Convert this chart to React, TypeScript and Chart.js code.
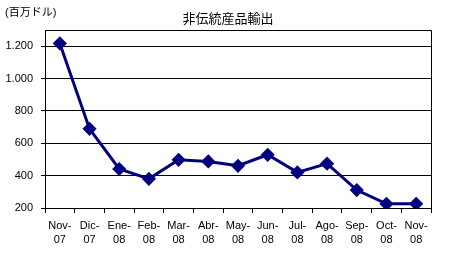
import React, { useEffect, useRef } from "react";
import { Chart, registerables } from "chart.js";

Chart.register(...registerables);

const categories: string[][] = [
  ["Nov-", "07"], ["Dic-", "07"], ["Ene-", "08"], ["Feb-", "08"], ["Mar-", "08"],
  ["Abr-", "08"], ["May-", "08"], ["Jun-", "08"], ["Jul-", "08"], ["Ago-", "08"],
  ["Sep-", "08"], ["Oct-", "08"], ["Nov-", "08"],
];
const exportsValues: number[] = [1217, 689, 441, 380, 498, 488, 461, 529, 420, 474, 311, 226, 226];
const yTicks: number[] = [200, 400, 600, 800, 1000, 1200];
const titleText = "非伝統産品輸出";
const unitText = "(百万ドル)";

const FONT = "'Liberation Sans', Arial, 'Noto Sans CJK JP', sans-serif";

const fmt = (v: number) => String(v).replace(/\B(?=(\d{3})+(?!\d))/g, ".");

export default function App() {
  const ref = useRef<HTMLCanvasElement | null>(null);
  useEffect(() => {
    if (!ref.current) return;
    const textPlugin = {
      id: "texts",
      afterDraw(chart: any) {
        const ctx = chart.ctx;
        const a = chart.chartArea;
        ctx.save();
        ctx.strokeStyle = "#000";
        ctx.lineWidth = 1;
        ctx.beginPath();
        ctx.moveTo(a.left, a.top + 0.5);
        ctx.lineTo(a.right + 0.5, a.top + 0.5);
        ctx.lineTo(a.right + 0.5, a.bottom);
        ctx.stroke();
        ctx.fillStyle = "#000";
        ctx.textBaseline = "middle";
        ctx.font = "11px " + FONT;
        ctx.textAlign = "left";
        ctx.fillText(unitText, 5, 13);
        ctx.font = "13px " + FONT;
        ctx.textAlign = "center";
        ctx.fillText(titleText, 228, 19);
        ctx.restore();
      },
    };
    const chart = new Chart(ref.current, {
      type: "line",
      data: {
        labels: categories,
        datasets: [
          {
            data: exportsValues,
            borderColor: "#000080",
            backgroundColor: "#000080",
            borderWidth: 3,
            pointStyle: "rectRot",
            pointRadius: 5,
            pointHoverRadius: 5,
            tension: 0,
          },
        ],
      },
      options: {
        animation: false,
        responsive: false,
        events: [],
        layout: { padding: { left: 0, right: 29, top: 30, bottom: 0 } },
        plugins: { legend: { display: false }, title: { display: false }, tooltip: { enabled: false } },
        scales: {
          x: {
            type: "category",
            offset: true,
            grid: { offset: true, drawOnChartArea: false, drawTicks: true, tickLength: 5, color: "#000" },
            border: { display: true, color: "#000", width: 1 },
            ticks: {
              color: "#000",
              font: { family: FONT, size: 11, lineHeight: 1.3 },
              padding: 6,
              maxRotation: 0,
              autoSkip: false,
            },
            afterFit: (s: any) => { s.height = 62; },
          },
          y: {
            min: 200,
            max: 1300,
            grid: { color: "#000", tickLength: 4, drawTicks: true },
            border: { display: true, color: "#000", width: 1 },
            ticks: {
              color: "#000",
              font: { family: FONT, size: 11 },
              padding: 8,
              callback: (v: any) => fmt(Number(v)),
            },
            afterBuildTicks: (s: any) => {
              s.ticks = yTicks.map((v) => ({ value: v }));
            },
            afterFit: (s: any) => { s.width = 45; },
          },
        },
      },
      plugins: [textPlugin],
    } as any);
    return () => chart.destroy();
  }, []);
  return (
    <div style={{ position: "absolute", left: 0, top: 0, width: 460, height: 270, background: "#fff" }}>
      <canvas ref={ref} width={460} height={270} style={{ width: 460, height: 270 }} />
    </div>
  );
}
